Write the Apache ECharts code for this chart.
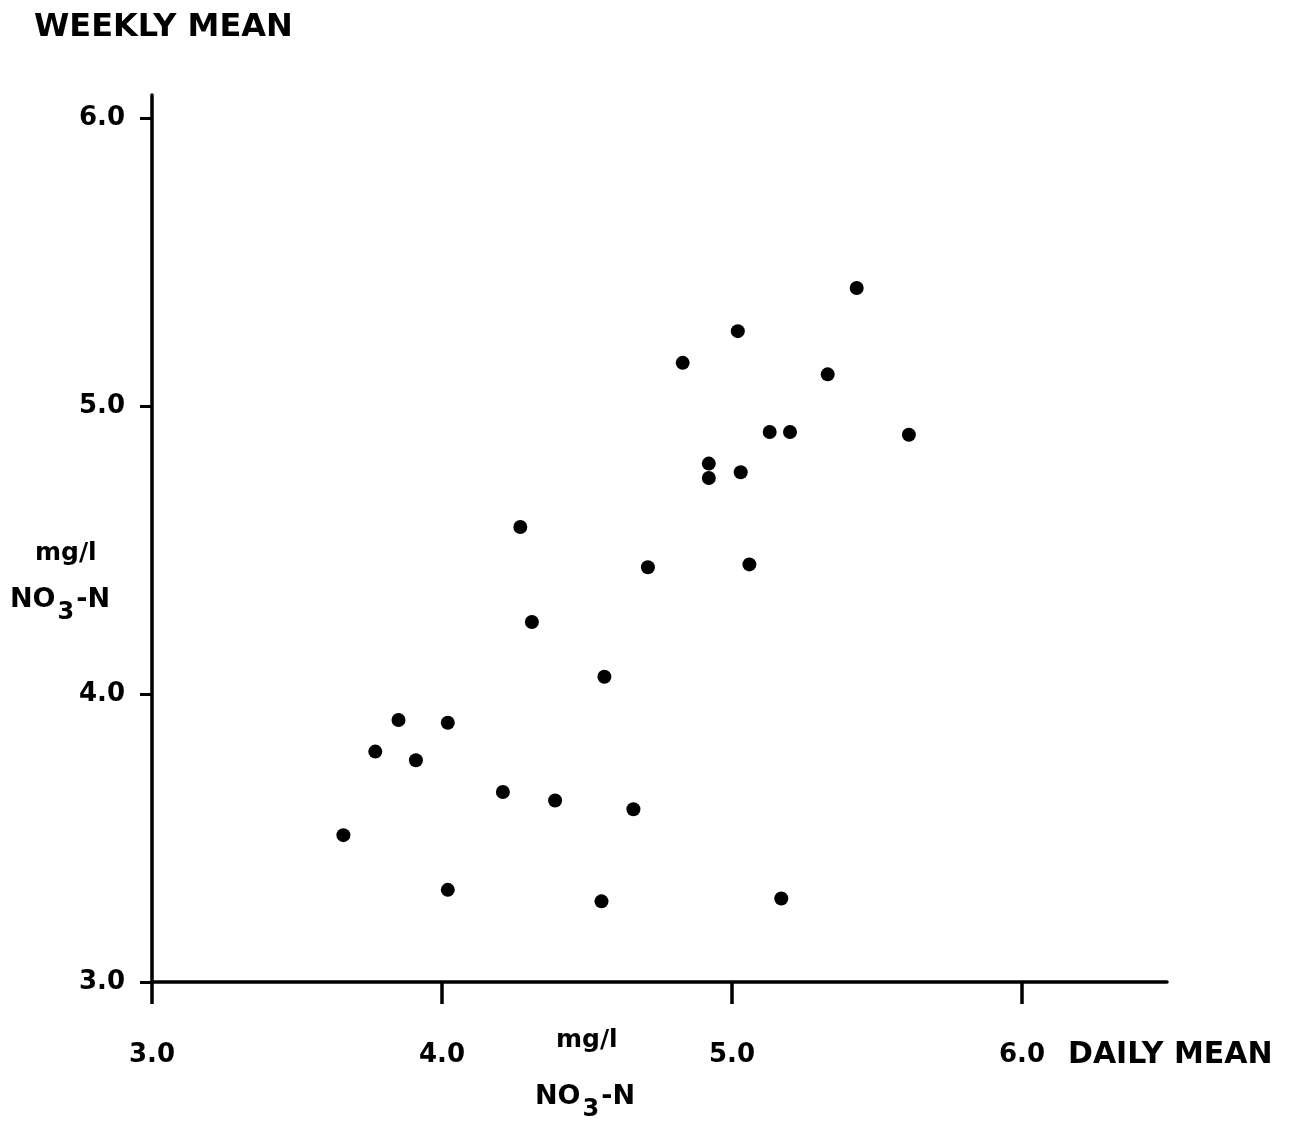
<!DOCTYPE html>
<html>
<head>
<meta charset="utf-8">
<title>NO3-N weekly mean vs daily mean</title>
<script src="https://cdn.jsdelivr.net/npm/echarts@6/dist/echarts.min.js"></script>
<style>
  html, body { margin: 0; padding: 0; background: #fff; }
  #chart { width: 1302px; height: 1128px; }
</style>
</head>
<body>
<div id="chart"></div>
<script>
// Daily-mean NO3-N (mg/l) for each week, x
const dailyMean = [
  5.43, 5.02, 4.83, 5.33, 5.13, 5.20, 5.61, 4.92, 4.92, 5.03,
  4.27, 4.71, 5.06, 4.31, 4.56, 3.85, 4.02, 3.77, 3.91, 4.21,
  4.39, 4.66, 3.66, 4.02, 4.55, 5.17
];
// Weekly-mean NO3-N (mg/l) for the same weeks, y
const weeklyMean = [
  5.41, 5.26, 5.15, 5.11, 4.91, 4.91, 4.90, 4.80, 4.75, 4.77,
  4.58, 4.44, 4.45, 4.25, 4.06, 3.91, 3.90, 3.80, 3.77, 3.66,
  3.63, 3.60, 3.51, 3.32, 3.28, 3.29
];
// Tick values on both axes
const xTicks = [3, 4, 5, 6];
const yTicks = [3, 4, 5, 6];

const points = dailyMean.map((x, i) => [x, weeklyMean[i]]);

const FONT = '"DejaVu Sans", "Liberation Sans", sans-serif';
const INK = '#000';

const chart = echarts.init(document.getElementById('chart'), null, { renderer: 'canvas' });

const labelStyle = { color: INK, fontFamily: FONT, fontWeight: 'bold', fontSize: 26 };
const richUnit = {
  b: { fontFamily: FONT, fontWeight: 'bold', fontSize: 27, color: INK, verticalAlign: 'top', lineHeight: 30 },
  s: { fontFamily: FONT, fontWeight: 'bold', fontSize: 24, color: INK, verticalAlign: 'top', lineHeight: 30, padding: [15, 2, 0, 2] },
  d: { fontFamily: FONT, fontWeight: 'bold', fontSize: 27, color: INK, verticalAlign: 'top', lineHeight: 30 }
};

chart.setOption({
  animation: false,
  backgroundColor: '#fff',
  grid: { left: 152, right: 135, top: 95, bottom: 146, containLabel: false },
  xAxis: {
    type: 'value',
    min: 3,
    max: 6.5,
    interval: 1,
    splitLine: { show: false },
    axisLine: { show: true, onZero: false, lineStyle: { color: INK, width: 3.5 } },
    axisTick: { show: true, length: 22, inside: false, customValues: xTicks, lineStyle: { color: INK, width: 3.5 } },
    axisLabel: {
      ...labelStyle,
      margin: 60,
      customValues: xTicks,
      formatter: v => v.toFixed(1)
    }
  },
  yAxis: {
    type: 'value',
    min: 3,
    max: 6.08,
    interval: 1,
    splitLine: { show: false },
    axisLine: { show: true, onZero: false, lineStyle: { color: INK, width: 3.5 } },
    axisTick: { show: true, length: 12, inside: false, customValues: yTicks, lineStyle: { color: INK, width: 3 } },
    axisLabel: {
      ...labelStyle,
      margin: 27,
      customValues: yTicks,
      formatter: v => v.toFixed(1)
    }
  },
  series: [{
    type: 'scatter',
    data: points,
    symbol: 'circle',
    symbolSize: 14,
    itemStyle: { color: INK, opacity: 1 }
  }],
  graphic: [
    {
      type: 'text', left: 34, top: 12,
      style: { text: 'WEEKLY MEAN', fill: INK, font: 'bold 32px ' + FONT }
    },
    {
      type: 'text', left: 35, top: 541,
      style: { text: 'mg/l', fill: INK, font: 'bold 25px ' + FONT }
    },
    {
      type: 'text', left: 10, top: 586,
      style: { text: '{b|NO}{s|3}{d|-N}', rich: richUnit }
    },
    {
      type: 'text', left: 556, top: 1028,
      style: { text: 'mg/l', fill: INK, font: 'bold 25px ' + FONT }
    },
    {
      type: 'text', left: 535, top: 1083,
      style: { text: '{b|NO}{s|3}{d|-N}', rich: richUnit }
    },
    {
      type: 'text', left: 1068, top: 1040,
      style: { text: 'DAILY MEAN', fill: INK, font: 'bold 30px ' + FONT }
    }
  ]
});
</script>
</body>
</html>
